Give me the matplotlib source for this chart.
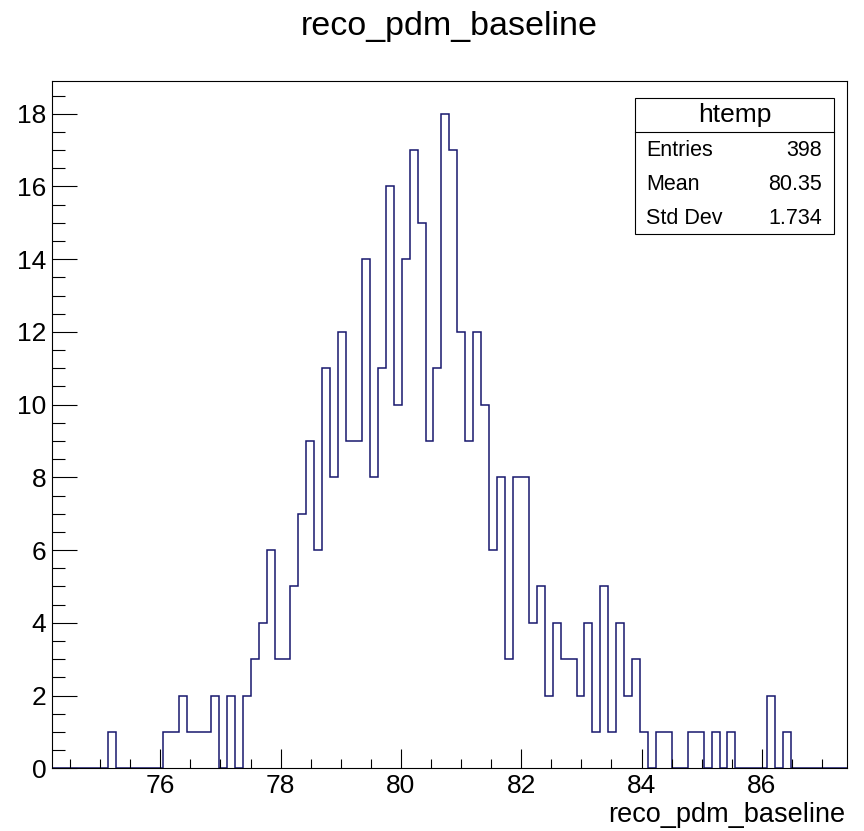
import numpy as np
import matplotlib.pyplot as plt
from matplotlib.patches import Rectangle
from matplotlib.lines import Line2D
from matplotlib.ticker import MultipleLocator

plt.rcParams['font.family'] = ['Liberation Sans', 'DejaVu Sans']

# bin contents of htemp, 100 bins
counts = [0, 0, 0, 0, 0, 0, 0, 1, 0, 0,
          0, 0, 0, 0, 1, 1, 2, 1, 1, 1,
          2, 0, 2, 0, 2, 3, 4, 6, 3, 3,
          5, 7, 9, 6, 11, 8, 12, 9, 9, 14,
          8, 11, 16, 10, 14, 17, 15, 9, 11, 18,
          17, 12, 9, 12, 10, 6, 8, 3, 8, 8,
          4, 5, 2, 4, 3, 3, 2, 4, 1, 5,
          1, 4, 2, 3, 1, 0, 1, 1, 0, 0,
          1, 1, 0, 1, 0, 1, 0, 0, 0, 0,
          2, 0, 1, 0, 0, 0, 0, 0, 0, 0]
x_lo, x_hi = 74.2, 87.41
n_bins = 100

title = 'reco_pdm_baseline'
xlabel = 'reco_pdm_baseline'
stats_name = 'htemp'
stats_labels = ['Entries', 'Mean', 'Std Dev']
stats_values = ['398', '80.35', '1.734']

W, H = 864, 831
line_col = '#18186e'


def fx(px):
    return px / W


def fy(py):
    return 1 - py / H


fig = plt.figure(figsize=(W / 100, H / 100), dpi=100)
ax = fig.add_axes([fx(52), fy(768.3), fx(846.7) - fx(52), fy(81) - fy(768.3)])

edges = np.linspace(x_lo, x_hi, n_bins + 1)
ax.stairs(counts, edges, baseline=0, color=line_col, linewidth=1.1)

ax.set_xlim(x_lo, x_hi)
ax.set_ylim(0, max(counts) * 1.05)

# ROOT style axes: inward ticks on left and bottom only
ax.xaxis.set_major_locator(MultipleLocator(2))
ax.xaxis.set_minor_locator(MultipleLocator(0.5))
ax.yaxis.set_major_locator(MultipleLocator(2))
ax.yaxis.set_minor_locator(MultipleLocator(0.5))
ax.tick_params(which='both', direction='in', top=False, right=False,
               width=0.8, color='black')
ax.tick_params(axis='x', which='major', length=13.7, labelsize=19, pad=4)
ax.tick_params(axis='x', which='minor', length=6.8)
ax.tick_params(axis='y', which='major', length=17.8, labelsize=19, pad=4)
ax.tick_params(axis='y', which='minor', length=9.4)
for sp in ax.spines.values():
    sp.set_linewidth(0.8)
    sp.set_color('black')

fig.text(fx(449.3), fy(35), title, ha='center', va='baseline', fontsize=24.5)
fig.text(fx(845), fy(821.7), xlabel, ha='right', va='baseline', fontsize=19.5)

# stats box
bx0, bx1, by0, by1, bdiv = 635, 834.3, 98.3, 234, 131.7
fig.patches.append(Rectangle((fx(bx0), fy(by1)), fx(bx1) - fx(bx0),
                             fy(by0) - fy(by1), transform=fig.transFigure,
                             facecolor='white', edgecolor='black', lw=0.8,
                             zorder=5))
fig.lines.append(Line2D([fx(bx0), fx(bx1)], [fy(bdiv), fy(bdiv)],
                        transform=fig.transFigure, color='black', lw=0.8,
                        zorder=6))
fig.text(fx((bx0 + bx1) / 2), fy(115), stats_name, ha='center', va='center',
         fontsize=19, zorder=7)
row_y = [150.7, 184, 218.3]
for lab, val, yy in zip(stats_labels, stats_values, row_y):
    fig.text(fx(646), fy(yy), lab, ha='left', va='center', fontsize=15.5, zorder=7)
    fig.text(fx(822), fy(yy), val, ha='right', va='center', fontsize=15.5, zorder=7)

fig.savefig('out.png', dpi=100)
